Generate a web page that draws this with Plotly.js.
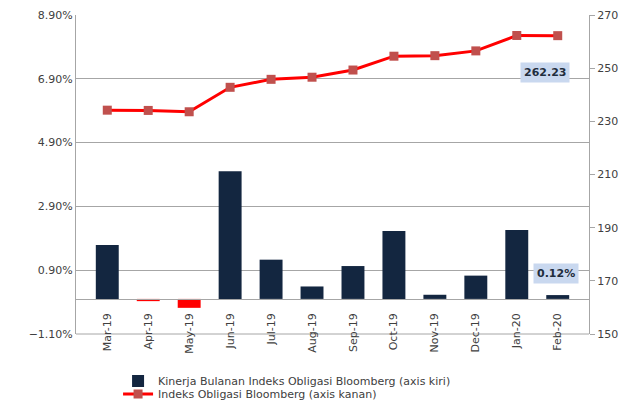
<!DOCTYPE html>
<html><head><meta charset="utf-8">
<script src="https://cdn.plot.ly/plotly-3.0.1.min.js"></script>
<style>html,body{margin:0;padding:0;background:#fff}#c{width:629px;height:413px}</style>
</head><body><div id="c"></div>
<script>
var months = ['Mar-19','Apr-19','May-19','Jun-19','Jul-19','Aug-19','Sep-19','Oct-19','Nov-19','Dec-19','Jan-20','Feb-20'];
var monthlyReturn = [1.69, -0.07, -0.28, 4.00, 1.23, 0.39, 1.03, 2.13, 0.13, 0.73, 2.16, 0.12];
var indexLevel = [234.2, 234.1, 233.6, 242.8, 245.8, 246.6, 249.3, 254.5, 254.7, 256.5, 262.3, 262.23];
var barName = 'Kinerja Bulanan Indeks Obligasi Bloomberg (axis kiri)';
var lineName = 'Indeks Obligasi Bloomberg (axis kanan)';
var lastIndexLabel = '262.23';
var lastReturnLabel = '0.12%';

var navy = '#132640', red = '#FF0000', grey = '#A6A6A6', txt = '#404040';
var font = 'DejaVu Sans';

var traces = [
  {type:'bar', x:months, y:monthlyReturn, name:barName, legend:'legend',
   marker:{color: monthlyReturn.map(function(v){return v<0?red:navy;})},
   hoverinfo:'skip'},
  {type:'scatter', mode:'lines+markers', x:months, y:indexLevel, yaxis:'y2', name:lineName, legend:'legend2',
   line:{color:red, width:3}, marker:{symbol:'square', size:9, color:'#C0504D'}, hoverinfo:'skip'}
];

var layout = {
  width:629, height:413,
  margin:{l:76, r:40, t:15, b:79, autoexpand:false},
  paper_bgcolor:'#fff', plot_bgcolor:'#fff',
  font:{family:font, size:11, color:txt},
  showlegend:true,
  bargap:0.44,
  xaxis:{type:'category', anchor:'free', position:(1.1/10), showline:true, linecolor:grey, linewidth:1,
         tickangle:-90, ticks:'', ticklabelstandoff:9, showgrid:false, zeroline:false, automargin:false,
         tickfont:{family:font, size:11, color:txt}},
  yaxis:{range:[-1.1, 8.9], tick0:-1.1, dtick:2, tickformat:'.2f', ticksuffix:'%', automargin:false,
         showgrid:true, gridcolor:grey, gridwidth:1, zeroline:false, showline:true, linecolor:grey,
         ticks:'', tickfont:{family:font, size:11, color:txt}},
  yaxis2:{range:[150, 270], tick0:150, dtick:20, overlaying:'y', side:'right', showgrid:false, zeroline:false,
          showline:true, linecolor:grey, ticks:'outside', ticklen:5, tickcolor:grey, automargin:false,
          tickfont:{family:font, size:11, color:txt}},
  legend:{x:0.082, y:(413-381)/413, yref:'container', xanchor:'left', yanchor:'middle', font:{family:font, size:11, color:txt}, bgcolor:'rgba(0,0,0,0)'},
  legend2:{x:0.082, y:(413-394)/413, yref:'container', xanchor:'left', yanchor:'middle', font:{family:font, size:11, color:txt}, bgcolor:'rgba(0,0,0,0)'},
  shapes:[
    {type:'line', xref:'paper', yref:'paper', x0:0, x1:1, y0:0, y1:0, line:{color:grey, width:1}, layer:'below'}
  ],
  annotations:[
    {x:months[months.length-1], y:indexLevel[indexLevel.length-1], xref:'x', yref:'y2', text:'<b>'+lastIndexLabel+'</b>',
     showarrow:false, xshift:-13, yshift:-37, bgcolor:'#C9D8EF', borderpad:3, font:{family:font, size:11, color:'#1F2D3D'}},
    {x:months[months.length-1], y:monthlyReturn[monthlyReturn.length-1], xref:'x', yref:'y', text:'<b>'+lastReturnLabel+'</b>',
     showarrow:false, xshift:-2, yshift:22, bgcolor:'#C9D8EF', borderpad:3, font:{family:font, size:11, color:'#1F2D3D'}}
  ]
};
Plotly.newPlot('c', traces, layout, {displayModeBar:false, staticPlot:true});
</script></body></html>
